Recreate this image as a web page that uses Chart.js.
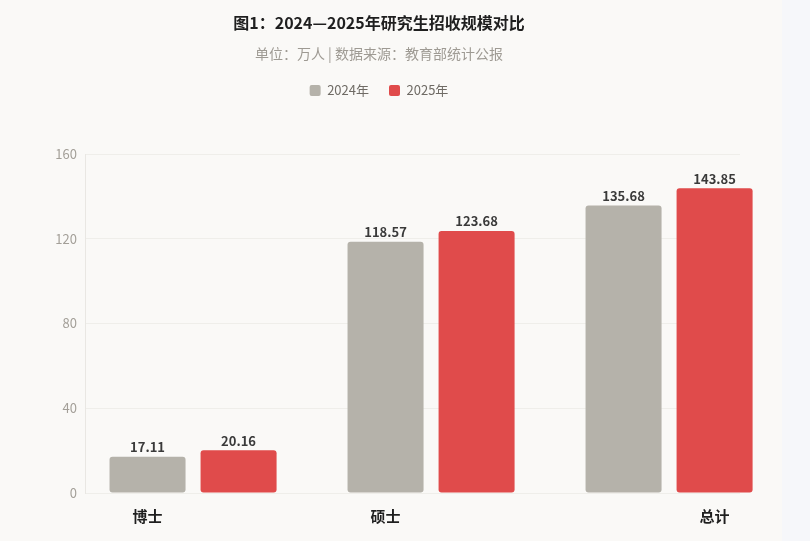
<!DOCTYPE html>
<html>
<head>
<meta charset="utf-8">
<script src="https://cdn.jsdelivr.net/npm/chart.js@4.4.1/dist/chart.umd.min.js"></script>
<style>
  html, body { margin: 0; padding: 0; background: #f6f7fa; }
  #panel { width: 782px; height: 541px; background: #faf9f7; position: relative; }
  #wrap { width: 758px; height: 541px; position: absolute; left: 0; top: 0; }
</style>
</head>
<body>
<div id="panel"><div id="wrap"><canvas id="c"></canvas></div></div>
<script>
const categories = ['博士', '硕士', '总计'];
const values2024 = [17.11, 118.57, 135.68];
const values2025 = [20.16, 123.68, 143.85];
const seriesNames = ['2024年', '2025年'];
const yTicks = [0, 40, 80, 120, 160];
// which series bar each category label sits under (as in the original)
const labelUnderSeries = [0, 0, 1];

const FONT = '"Noto Sans CJK SC", "Noto Sans", sans-serif';

const toPoints = arr => arr.map((v, i) => ({ x: i, y: v }));

const barTopLabels = {
  id: 'barTopLabels',
  afterDatasetsDraw(chart) {
    const ctx = chart.ctx;
    ctx.save();
    ctx.font = 'bold 13px ' + FONT;
    ctx.fillStyle = '#3a3a3a';
    ctx.textAlign = 'center';
    ctx.textBaseline = 'bottom';
    chart.data.datasets.forEach((ds, di) => {
      const meta = chart.getDatasetMeta(di);
      meta.data.forEach((bar, i) => {
        ctx.fillText(ds.data[i].y.toFixed(2), bar.x, bar.y - 3);
      });
    });
    // category labels
    ctx.font = 'bold 15px ' + FONT;
    ctx.fillStyle = '#1f1f1f';
    ctx.textBaseline = 'middle';
    categories.forEach((c, i) => {
      const bar = chart.getDatasetMeta(labelUnderSeries[i]).data[i];
      ctx.fillText(c, bar.x, chart.chartArea.bottom + 23);
    });
    ctx.restore();
  }
};

const legendGap = {
  id: 'legendGap',
  beforeInit(chart) {
    const origFit = chart.legend.fit;
    chart.legend.fit = function () {
      origFit.call(this);
      this.height += 47;
    };
  }
};

new Chart(document.getElementById('c'), {
  type: 'bar',
  data: {
    datasets: [
      {
        label: seriesNames[0],
        data: toPoints(values2024),
        backgroundColor: '#b5b2aa',
        borderRadius: 3,
        borderSkipped: false,
        clip: false
      },
      {
        label: seriesNames[1],
        data: toPoints(values2025),
        backgroundColor: '#e04b4b',
        borderRadius: 3,
        borderSkipped: false,
        clip: false
      }
    ]
  },
  options: {
    responsive: true,
    maintainAspectRatio: false,
    animation: false,
    categoryPercentage: 0.765,
    barPercentage: 0.835,
    layout: { padding: { left: 18, right: 18, top: 0, bottom: 48 } },
    plugins: {
      title: {
        display: true,
        text: '图1：2024—2025年研究生招收规模对比',
        color: '#1f1f1f',
        font: { family: FONT, size: 16, weight: 'bold' },
        padding: { top: 13, bottom: 13 }
      },
      subtitle: {
        display: true,
        text: '单位：万人 | 数据来源：教育部统计公报',
        color: '#9e9a93',
        font: { family: FONT, size: 14 },
        padding: { top: 0, bottom: 2 }
      },
      legend: {
        display: true,
        position: 'top',
        labels: {
          boxWidth: 11,
          boxHeight: 11,
          padding: 20,
          color: '#6f6b65',
          font: { family: FONT, size: 13 },
          useBorderRadius: true,
          borderRadius: 2
        }
      },
      tooltip: { enabled: false }
    },
    scales: {
      x: {
        type: 'linear',
        display: false,
        offset: false,
        grid: { offset: false },
        min: -0.454,
        max: 2.298,
        ticks: { stepSize: 1, includeBounds: false }
      },
      y: {
        min: 0,
        max: 160,
        afterBuildTicks(scale) { scale.ticks = yTicks.map(v => ({ value: v })); },
        afterFit(scale) { scale.width = 67; },
        ticks: {
          color: '#a39f98',
          font: { family: FONT, size: 13 },
          padding: 8
        },
        grid: { color: '#efeeea', drawTicks: false },
        border: { display: true, color: '#e9e7e3' }
      }
    }
  },
  plugins: [barTopLabels, legendGap]
});
</script>
</body>
</html>
